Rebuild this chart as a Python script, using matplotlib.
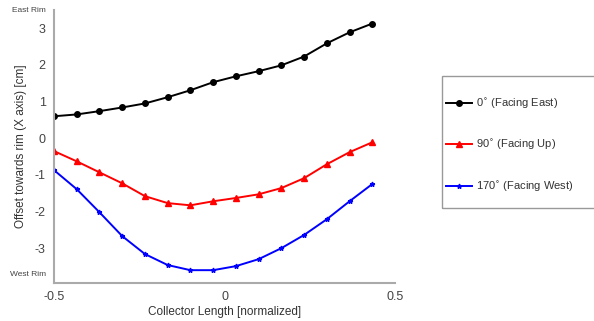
import matplotlib
matplotlib.use("Agg")
import matplotlib.pyplot as plt
from matplotlib.patches import Rectangle

plt.rcParams['font.family'] = ['Liberation Sans', 'DejaVu Sans']

x_pos = [-0.5 + i / 15 for i in range(15)]
east_0 = [0.60, 0.65, 0.74, 0.84, 0.95, 1.12, 1.31, 1.53, 1.69, 1.83, 1.99, 2.23, 2.59, 2.89, 3.13]
up_90 = [-0.35, -0.63, -0.93, -1.23, -1.58, -1.77, -1.83, -1.72, -1.63, -1.53, -1.36, -1.09, -0.71, -0.38, -0.11]
west_170 = [-0.87, -1.39, -2.02, -2.67, -3.16, -3.46, -3.60, -3.60, -3.49, -3.30, -3.00, -2.64, -2.21, -1.72, -1.25]
labels = [r'0$^{\circ}$ (Facing East)', r'90$^{\circ}$ (Facing Up)', r'170$^{\circ}$ (Facing West)']
ytick_vals = [-3.7, -3, -2, -1, 0, 1, 2, 3, 3.5]
ytick_labels = ['West Rim', '-3', '-2', '-1', '0', '1', '2', '3', 'East Rim']
xtick_vals = [-0.5, 0, 0.5]
xtick_labels = ['-0.5', '0', '0.5']

fig = plt.figure(figsize=(5.94, 3.21), dpi=100)
ax = fig.add_axes([54/594, 38/321, (395-54)/594, (283-10)/321])

ax.plot(x_pos, east_0, color='black', marker='o', markersize=4, lw=1.4, label=labels[0])
ax.plot(x_pos, up_90, color='red', marker='^', markersize=4, lw=1.4, label=labels[1])
ax.plot(x_pos, west_170, color='blue', marker='*', markersize=3.5, lw=1.4, label=labels[2])

ax.set_xlim(-0.5, 0.5)
ax.set_ylim(-3.95, 3.5)
ax.set_yticks(ytick_vals)
ax.set_yticklabels(ytick_labels)
ax.set_xticks(xtick_vals)
ax.set_xticklabels(xtick_labels)
for lab in ax.get_yticklabels():
    if lab.get_text() in ('West Rim', 'East Rim'):
        lab.set_fontsize(6)
    else:
        lab.set_fontsize(9)
for lab in ax.get_xticklabels():
    lab.set_fontsize(9)
ax.tick_params(axis='both', length=0, colors='#444444', pad=6)
for s in ['top', 'right']:
    ax.spines[s].set_visible(False)
for s in ['left', 'bottom']:
    ax.spines[s].set_color('#aaaaaa')
    ax.spines[s].set_linewidth(1.5)

ax.set_xlabel('Collector Length [normalized]', fontsize=8.5, color='#333333', labelpad=2)
ax.set_ylabel('Offset towards rim (X axis) [cm]', fontsize=8.5, color='#333333')
ax.yaxis.set_label_coords(-27/341, 0.5)

# legend box
fig.patches.append(Rectangle((442/594, 1 - 208/321), 0.3, (208-76)/321,
                             transform=fig.transFigure, fill=False,
                             edgecolor='#999999', lw=1.0))
leg = fig.legend(loc='upper left', bbox_to_anchor=(446/594, 1 - 97/321),
                 frameon=False, fontsize=8, labelspacing=2.45, handlelength=2.3,
                 handletextpad=0.4, borderpad=0, borderaxespad=0)
for t in leg.get_texts():
    t.set_color('#333333')

fig.savefig('out.png', dpi=100)
